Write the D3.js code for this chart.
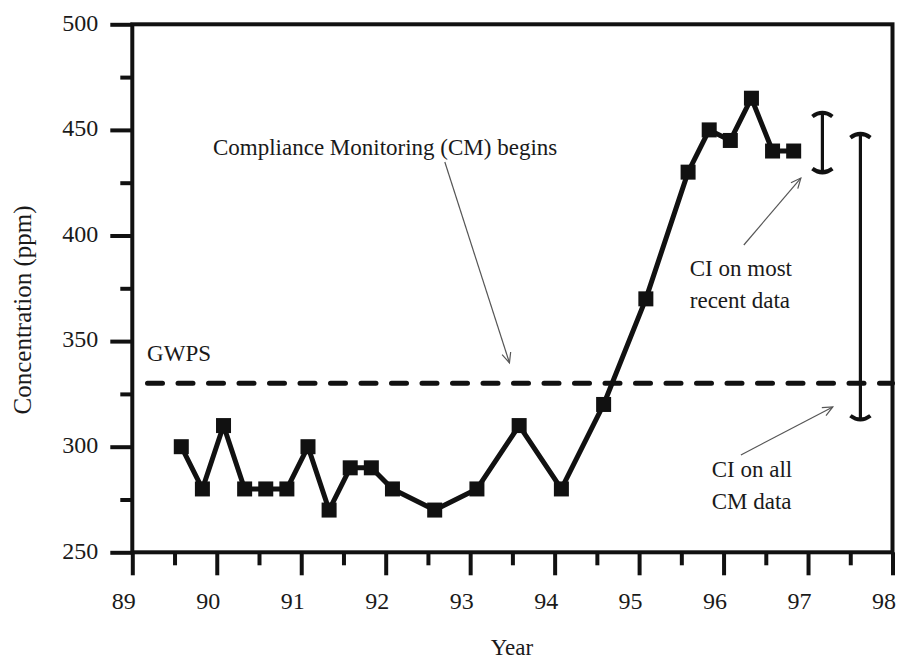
<!DOCTYPE html>
<html>
<head>
<meta charset="utf-8">
<script src="https://cdn.jsdelivr.net/npm/d3@7/dist/d3.min.js"></script>
<style>
  html, body { margin: 0; padding: 0; background: #fff; }
  svg { display: block; }
  text { font-family: "Liberation Serif", "Times New Roman", "DejaVu Serif", serif; fill: #1a1a1a; }
</style>
</head>
<body>
<svg id="chart" width="901" height="660"></svg>
<script>
// ---- data ----
const years = [89.58, 89.83, 90.08, 90.33, 90.58, 90.83, 91.08, 91.33, 91.58, 91.83, 92.08, 92.58,
               93.08, 93.58, 94.08, 94.58, 95.08, 95.58, 95.83, 96.08, 96.33, 96.58, 96.83];
const concentration = [300, 280, 310, 280, 280, 280, 300, 270, 290, 290, 280, 270,
                       280, 310, 280, 320, 370, 430, 450, 445, 465, 440, 440];
const gwps = 330;
const ciYears = [97.17, 97.62];
const ciLow = [430, 313];
const ciHigh = [458, 448];
const xTicks = [89, 90, 91, 92, 93, 94, 95, 96, 97, 98];
const xMinorTicks = [89.5, 90.5, 91.5, 92.5, 93.5, 94.5, 95.5, 96.5, 97.5];
const yTicks = [250, 300, 350, 400, 450, 500];
const yMinorTicks = [275, 325, 375, 425, 475];
const xTitle = "Year";
const yTitle = "Concentration (ppm)";
// annotation texts [x(year), y(value), lines]
const noteTexts = [
  [89.955, 438.1, ["Compliance Monitoring (CM) begins"]],
  [89.175, 340.6, ["GWPS"]],
  [95.60, 380.8, ["CI on most", "recent data"]],
  [95.86, 285.7, ["CI on all", "CM data"]]
];
// annotation arrows [x1, y1, x2, y2] in data units (tail -> head)
const noteArrows = [
  [92.70, 434.8, 93.465, 339.7],
  [96.24, 395.5, 96.915, 427.2],
  [96.205, 296.1, 97.293, 318.8]
];

// ---- layout ----
const svg = d3.select("#chart");
const x = d3.scaleLinear().domain([89, 98]).range([132.3, 892.5]);
const y = d3.scaleLinear().domain([250, 500]).range([552.3, 24.3]);

svg.append("rect").attr("width", 901).attr("height", 660).attr("fill", "#fff");

// arrow marker
svg.append("defs").append("marker")
  .attr("id", "arr").attr("markerUnits", "userSpaceOnUse")
  .attr("viewBox", "-12 -6 14 12").attr("refX", 0).attr("refY", 0)
  .attr("markerWidth", 14).attr("markerHeight", 12).attr("orient", "auto")
  .append("path").attr("d", "M-10,-4.5 L0,0 L-10,4.5")
  .attr("fill", "none").attr("stroke", "#555").attr("stroke-width", 1.2);

// axes
function styleAxis(g) {
  g.select(".domain").remove();
  g.selectAll(".tick line").attr("stroke", "#111").attr("stroke-width", 4);
}
svg.append("g").attr("transform", `translate(${x.range()[0]},0)`)
  .call(d3.axisLeft(y).tickValues(yMinorTicks).tickSize(12).tickFormat(""))
  .call(styleAxis);
const yAx = svg.append("g").attr("transform", `translate(${x.range()[0]},0)`)
  .call(d3.axisLeft(y).tickValues(yTicks).tickSize(22).tickPadding(12).tickFormat(d3.format("d")))
  .call(styleAxis);
yAx.selectAll(".tick text").attr("font-size", 24).attr("dy", "0.24em")
  .style("font-family", '"Liberation Serif", serif').attr("fill", "#1a1a1a");

svg.append("g").attr("transform", `translate(0,${y.range()[0]})`)
  .call(d3.axisBottom(x).tickValues(xMinorTicks).tickSize(13).tickFormat(""))
  .call(styleAxis);
const xAx = svg.append("g").attr("transform", `translate(0,${y.range()[0]})`)
  .call(d3.axisBottom(x).tickValues(xTicks).tickSize(23).tickPadding(17).tickFormat(d3.format("d")))
  .call(styleAxis);
xAx.selectAll(".tick text").attr("font-size", 24).attr("dx", -9)
  .style("font-family", '"Liberation Serif", serif').attr("fill", "#1a1a1a");

// frame
svg.append("rect")
  .attr("x", x(89)).attr("y", y(500))
  .attr("width", x(98) - x(89)).attr("height", y(250) - y(500))
  .attr("fill", "none").attr("stroke", "#111").attr("stroke-width", 4);

// titles
svg.append("text").attr("x", 512).attr("y", 655).attr("text-anchor", "middle")
  .attr("font-size", 23).text(xTitle);
svg.append("text").attr("transform", "translate(31,310) rotate(-90)").attr("text-anchor", "middle")
  .attr("font-size", 25).text(yTitle);

// GWPS dashed line
svg.append("line")
  .attr("x1", x(89)).attr("x2", x(98)).attr("y1", y(gwps)).attr("y2", y(gwps))
  .attr("stroke", "#111").attr("stroke-width", 5).attr("stroke-linecap", "round")
  .attr("stroke-dasharray", "15 15.5").attr("stroke-dashoffset", 15.3);

// data line
const pts = years.map((d, i) => [d, concentration[i]]);
svg.append("path").datum(pts)
  .attr("d", d3.line().x(d => x(d[0])).y(d => y(d[1])))
  .attr("fill", "none").attr("stroke", "#111").attr("stroke-width", 5)
  .attr("stroke-linejoin", "round");
const ms = 15;
svg.selectAll("rect.pt").data(pts).enter().append("rect").attr("class", "pt")
  .attr("x", d => x(d[0]) - ms / 2).attr("y", d => y(d[1]) - ms / 2)
  .attr("width", ms).attr("height", ms).attr("fill", "#111");

// confidence intervals
ciYears.forEach((cx, i) => {
  const px = x(cx), top = y(ciHigh[i]), bot = y(ciLow[i]);
  const g = svg.append("g").attr("fill", "none").attr("stroke", "#111");
  g.append("line").attr("x1", px).attr("x2", px).attr("y1", top).attr("y2", bot).attr("stroke-width", 3.2);
  g.append("path").attr("d", `M${px - 10},${top + 3.5} Q${px},${top - 4} ${px + 10},${top + 3.5}`).attr("stroke-width", 4);
  g.append("path").attr("d", `M${px - 10},${bot - 3.5} Q${px},${bot + 4} ${px + 10},${bot - 3.5}`).attr("stroke-width", 4);
});

// annotations
noteArrows.forEach(a => {
  svg.append("line")
    .attr("x1", x(a[0])).attr("y1", y(a[1])).attr("x2", x(a[2])).attr("y2", y(a[3]))
    .attr("stroke", "#555").attr("stroke-width", 1.2).attr("marker-end", "url(#arr)");
});
noteTexts.forEach(t => {
  const tx = svg.append("text").attr("x", x(t[0])).attr("y", y(t[1])).attr("font-size", 23);
  t[2].forEach((line, i) => {
    tx.append("tspan").attr("x", x(t[0])).attr("dy", i === 0 ? 0 : 32).text(line);
  });
});
</script>
</body>
</html>
